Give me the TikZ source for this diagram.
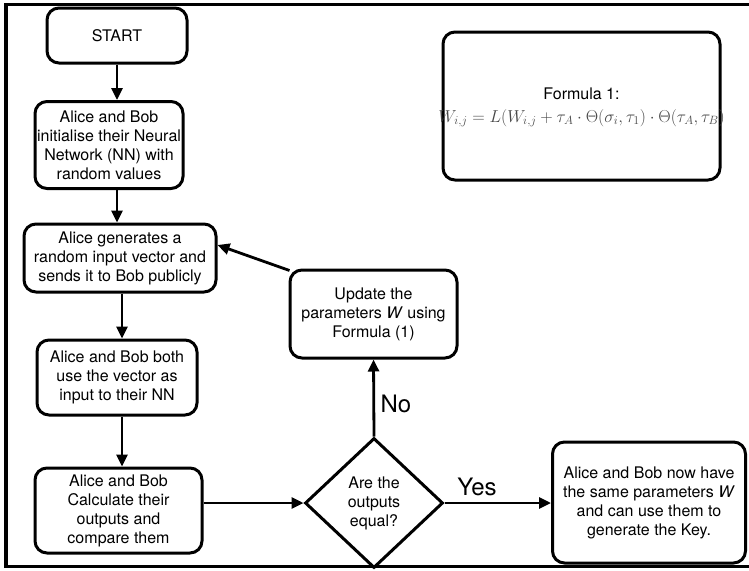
\documentclass[tikz,border=0pt]{standalone}
\usepackage{fontspec}
\setmainfont{TeX Gyre Heros}
\usetikzlibrary{shapes.geometric,arrows.meta}
\tikzset{
  flowbox/.style={draw, line width=3pt, rounded corners=12pt, align=center,
    inner sep=0pt, font=\fontsize{16}{19}\selectfont},
  flowarrow/.style={line width=2.8pt, -{Triangle[length=12pt,width=11pt]}},
  decision/.style={draw, diamond, line width=3pt, inner sep=0pt, align=center,
    aspect=1.06, font=\fontsize{16}{19}\selectfont},
  branchlabel/.style={font=\fontsize{24}{26}\selectfont, inner sep=0pt}
}
\begin{document}
\begin{tikzpicture}[x=1pt,y=-1pt]
\useasboundingbox (0,0) rectangle (749,570);
% outer frame (open on the right)
\draw[line width=3.2pt] (751,4.5) -- (6,4.5) -- (6,566.5) -- (751,566.5);

\node[flowbox, minimum width=140pt, minimum height=55pt] (start) at (117,35.5) {START};
\node[flowbox, minimum width=148pt, minimum height=87pt] (init) at (109,145)
  {Alice and Bob\\initialise their Neural\\Network (NN) with\\random values};
\node[flowbox, minimum width=192pt, minimum height=68pt] (gen) at (120,258)
  {Alice generates a\\random input vector and\\sends it to Bob publicly};
\node[flowbox, minimum width=160pt, minimum height=75pt] (both) at (117,377.5)
  {Alice and Bob both\\use the vector as\\input to their NN};
\node[flowbox, minimum width=167pt, minimum height=85pt] (calc) at (118.5,510.5)
  {Alice and Bob\\Calculate their\\outputs and\\compare them};
\node[decision, minimum width=138pt, minimum height=130pt] (dec) at (374,503)
  {Are the\\outputs\\equal?};
\node[flowbox, minimum width=167pt, minimum height=88pt] (upd) at (373.5,314)
  {Update the\\parameters \textit{W} using\\Formula (1)};
\node[flowbox, minimum width=193pt, minimum height=121pt] (final) at (649,502.5)
  {Alice and Bob now have\\the same parameters \textit{W}\\and can use them to\\generate the Key.};
\node[flowbox, minimum width=277pt, minimum height=148pt] (formula) at (581.5,106) {};
\node[font=\fontsize{16}{19}\selectfont, inner sep=0pt] (ftitle) at (581.5,94) {Formula 1:};
\node[text=black!72, inner sep=0pt, font=\fontsize{17.4}{20}\selectfont] (feq) at (581.5,118)
  {$W_{i,j}=L(W_{i,j}+\tau_A\cdot\Theta(\sigma_i,\tau_1)\cdot\Theta(\tau_A,\tau_B)$};

\draw[flowarrow] (start.south -| 117,0) -- (117,0 |- init.north);
\draw[flowarrow] (117,0 |- init.south) -- (117,0 |- gen.north);
\draw[flowarrow] (122,0 |- gen.south) -- (122,0 |- both.north);
\draw[flowarrow] (122,0 |- both.south) -- (122,0 |- calc.north);
\draw[flowarrow] (calc.east |- dec.west) -- (dec.west);
\draw[flowarrow] (dec.north) -- (upd.south);
\draw[flowarrow] (dec.east) -- (final.west |- dec.east);
\draw[flowarrow] ([xshift=1pt,yshift=-2pt]upd.north west) -- ([yshift=13pt]gen.east);

\node[branchlabel] (nolab) at (396,404) {No};
\node[branchlabel] (yeslab) at (477,487) {Yes};
\end{tikzpicture}
\end{document}
